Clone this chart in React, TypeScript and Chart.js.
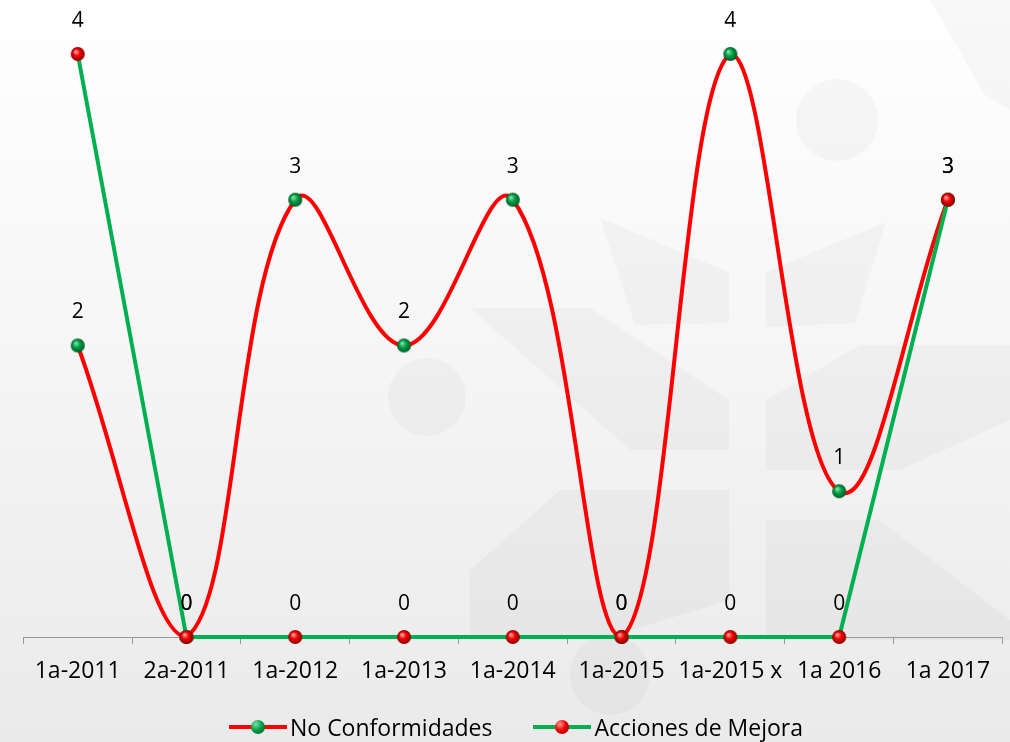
import React, { useEffect, useRef } from 'react';
import { Chart, registerables } from 'chart.js';

Chart.register(...registerables);

const categories = ['1a-2011', '2a-2011', '1a-2012', '1a-2013', '1a-2014', '1a-2015', '1a-2015 x', '1a 2016', '1a 2017'];
const noConformidades = [2, 0, 3, 2, 3, 0, 4, 1, 3];
const accionesMejora = [4, 0, 0, 0, 0, 0, 0, 0, 3];
const seriesNames = ['No Conformidades', 'Acciones de Mejora'];

const RED = '#ff0000';
const GREEN = '#00b050';
const FONT = '"Open Sans", "Liberation Sans", sans-serif';

const SPHERE_RED = { light: '#ff9a9a', mid: '#f00000', dark: '#8a0000' };
const SPHERE_GREEN = { light: '#7fe0a8', mid: '#00a045', dark: '#005a28' };

function makeSphere(col: { light: string; mid: string; dark: string }, r: number): HTMLCanvasElement {
  const c = document.createElement('canvas');
  const s = r * 2 + 2;
  c.width = s;
  c.height = s;
  const ctx = c.getContext('2d')!;
  const cx = s / 2;
  const g = ctx.createRadialGradient(cx - r * 0.3, cx - r * 0.35, r * 0.1, cx, cx, r);
  g.addColorStop(0, col.light);
  g.addColorStop(0.45, col.mid);
  g.addColorStop(1, col.dark);
  ctx.fillStyle = g;
  ctx.beginPath();
  ctx.arc(cx, cx, r, 0, Math.PI * 2);
  ctx.fill();
  return c;
}

// faint decorative watermark in the background
const bgPlugin = {
  id: 'bgPlugin',
  beforeDraw(chart: any) {
    const { ctx, width, height } = chart;
    ctx.save();
    const g = ctx.createLinearGradient(0, 0, 0, height);
    g.addColorStop(0, '#ffffff');
    g.addColorStop(0.45, '#f6f6f6');
    g.addColorStop(1, '#eaeaea');
    ctx.fillStyle = g;
    ctx.fillRect(0, 0, width, height);
    ctx.fillStyle = 'rgba(0,0,0,0.028)';
    const circles = [
      [837, 120, 41],
      [427, 397, 39],
      [610, 675, 40],
    ];
    circles.forEach(([x, y, r]) => {
      ctx.beginPath();
      ctx.arc(x, y, r, 0, Math.PI * 2);
      ctx.fill();
    });
    const polys = [
      [[600, 218], [729, 272], [729, 323], [635, 325]],
      [[766, 272], [886, 222], [855, 323], [766, 327]],
      [[470, 308], [590, 308], [729, 400], [729, 450], [630, 450]],
      [[766, 400], [860, 345], [1010, 345], [1010, 420], [900, 470], [766, 470]],
      [[470, 570], [560, 490], [729, 490], [729, 600], [600, 640], [470, 640]],
      [[766, 520], [880, 520], [1010, 620], [1010, 640], [766, 640]],
      [[930, 0], [1010, 0], [1010, 110], [985, 95]],
    ];
    polys.forEach((p) => {
      ctx.beginPath();
      ctx.moveTo(p[0][0], p[0][1]);
      for (let i = 1; i < p.length; i++) ctx.lineTo(p[i][0], p[i][1]);
      ctx.closePath();
      ctx.fill();
    });
    ctx.restore();
  },
};

const labelPlugin = {
  id: 'valueLabels',
  afterDatasetsDraw(chart: any) {
    const { ctx } = chart;
    ctx.save();
    ctx.font = `21px ${FONT}`;
    ctx.fillStyle = '#000';
    ctx.textAlign = 'center';
    ctx.textBaseline = 'middle';
    chart.data.datasets.forEach((ds: any, i: number) => {
      const meta = chart.getDatasetMeta(i);
      meta.data.forEach((pt: any, j: number) => {
        ctx.fillText(String(ds.data[j]), pt.x, pt.y - 33);
      });
    });
    ctx.restore();
  },
};

function LegendItem({ name, line, sphere }: { name: string; line: string; sphere: { light: string; mid: string; dark: string } }) {
  return (
    <div style={{ display: 'flex', alignItems: 'center' }}>
      <div style={{ position: 'relative', width: 58, height: 16, marginRight: 3 }}>
        <div style={{ position: 'absolute', left: 0, top: 6, width: 58, height: 4, background: line }} />
        <div
          style={{
            position: 'absolute',
            left: 22,
            top: 1,
            width: 14,
            height: 14,
            borderRadius: '50%',
            background: `radial-gradient(circle at 35% 30%, ${sphere.light} 0%, ${sphere.mid} 45%, ${sphere.dark} 100%)`,
          }}
        />
      </div>
      <span style={{ fontFamily: FONT, fontSize: 23, lineHeight: '28px', color: '#000', whiteSpace: 'nowrap' }}>{name}</span>
    </div>
  );
}

export default function App() {
  const ref = useRef<HTMLCanvasElement>(null);
  useEffect(() => {
    const greenSphere = makeSphere(SPHERE_GREEN, 7);
    const redSphere = makeSphere(SPHERE_RED, 7);

    const chart = new Chart(ref.current!, {
      type: 'line',
      data: {
        labels: categories,
        datasets: [
          {
            label: seriesNames[0],
            data: noConformidades,
            borderColor: RED,
            borderWidth: 4,
            tension: 0.4,
            pointStyle: greenSphere as any,
            pointRadius: 7,
            pointBorderWidth: 0,
            pointHoverRadius: 7,
            order: 2,
            clip: false as any,
          },
          {
            label: seriesNames[1],
            data: accionesMejora,
            borderColor: GREEN,
            borderWidth: 4,
            tension: 0,
            pointStyle: redSphere as any,
            pointRadius: 7,
            pointBorderWidth: 0,
            pointHoverRadius: 7,
            order: 1,
            clip: false as any,
          },
        ],
      },
      options: {
        animation: false,
        responsive: false,
        maintainAspectRatio: false,
        layout: { padding: { left: 23.3, right: 7.7, top: 54, bottom: 45 } },
        scales: {
          x: {
            offset: true,
            border: { display: true, color: '#999', width: 1 },
            grid: { display: true, offset: true, drawOnChartArea: false, drawTicks: true, tickLength: 7, color: '#999' },
            ticks: { color: '#000', font: { family: FONT, size: 23 }, padding: 14, maxRotation: 0 },
            afterFit: (s: any) => {
              s.height = 60;
              s.paddingLeft = 0;
              s.paddingRight = 0;
            },
          },
          y: {
            display: false,
            min: 0,
            max: 4,
          },
        },
        plugins: {
          tooltip: { enabled: false },
          legend: { display: false },
        },
      },
      plugins: [bgPlugin, labelPlugin],
    });
    return () => chart.destroy();
  }, []);
  return (
    <div style={{ position: 'fixed', left: 0, top: 0, width: 1010, height: 742 }}>
      <canvas ref={ref} width={1010} height={742} style={{ width: 1010, height: 742, display: 'block' }} />
      <div
        style={{
          position: 'absolute',
          left: 0,
          top: 713,
          width: 1032,
          height: 28,
          display: 'flex',
          justifyContent: 'center',
          alignItems: 'center',
          gap: 41,
        }}
      >
        <LegendItem name={seriesNames[0]} line={RED} sphere={SPHERE_GREEN} />
        <LegendItem name={seriesNames[1]} line={GREEN} sphere={SPHERE_RED} />
      </div>
    </div>
  );
}
